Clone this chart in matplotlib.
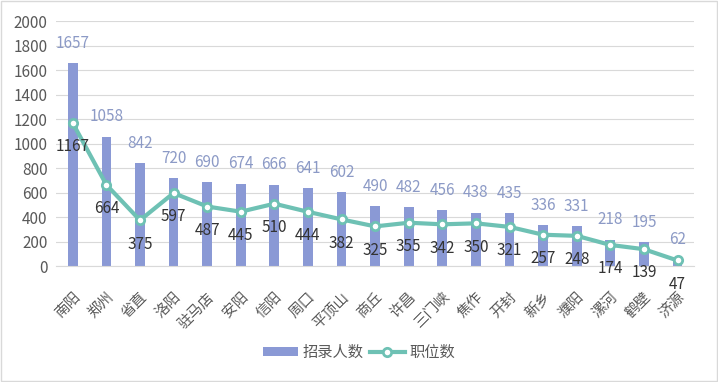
import matplotlib.pyplot as plt
import numpy as np

plt.rcParams['font.family'] = ['Noto Sans CJK SC', 'DejaVu Sans']

cities = ['南阳', '郑州', '省直', '洛阳', '驻马店', '安阳', '信阳', '周口', '平顶山', '商丘',
          '许昌', '三门峡', '焦作', '开封', '新乡', '濮阳', '漯河', '鹤壁', '济源']
recruits = [1657, 1058, 842, 720, 690, 674, 666, 641, 602, 490,
            482, 456, 438, 435, 336, 331, 218, 195, 62]
positions = [1167, 664, 375, 597, 487, 445, 510, 444, 382, 325,
             355, 342, 350, 321, 257, 248, 174, 139, 47]

bar_color = '#8A99D5'
line_color = '#6EC1B4'

fig = plt.figure(figsize=(7.18, 3.82), dpi=100)
ax = fig.add_axes([0.078, 0.303, 0.889, 0.642])

x = np.arange(len(cities))
bars = ax.bar(x, recruits, width=0.29, color=bar_color, label='招录人数', zorder=2)
line, = ax.plot(x, positions, color=line_color, lw=3, marker='o', ms=6,
                mfc='white', mec=line_color, mew=2, label='职位数', zorder=3)

for i in range(len(cities)):
    ax.annotate(str(recruits[i]), (x[i], recruits[i]), xytext=(0, 8), textcoords='offset points',
                ha='center', va='bottom', fontsize=11, color='#8C9AC6')
    ax.annotate(str(positions[i]), (x[i], positions[i]), xytext=(0, -11), textcoords='offset points',
                ha='center', va='top', fontsize=11, color='#333333')

ax.set_xlim(-0.5, len(cities) - 0.5)
ax.set_ylim(0, 2000)
ax.set_yticks(range(0, 2001, 200))
ax.yaxis.grid(True, color='#D9D9D9', lw=0.8, zorder=0)
ax.set_axisbelow(True)
for s in ['top', 'right', 'left']:
    ax.spines[s].set_visible(False)
ax.spines['bottom'].set_color('#D9D9D9')
ax.tick_params(axis='both', length=0, colors='#595959')
ax.tick_params(axis='y', pad=6, labelsize=11)
ax.tick_params(axis='x', pad=17, labelsize=10.5)
ax.set_xticks(x)
ax.set_xticklabels(cities, rotation=45, ha='right', va='top', rotation_mode='anchor')

fig.legend([bars, line], ['招录人数', '职位数'], loc='lower center', bbox_to_anchor=(0.5, 0.02),
           ncol=2, frameon=False, fontsize=11, handlelength=2.3, handleheight=0.5,
           columnspacing=0.4, handletextpad=0.3, labelcolor='#595959')

fig.patches.append(plt.Rectangle((0.002, 0.002), 0.996, 0.996, transform=fig.transFigure,
                                 fill=False, edgecolor='#D9D9D9', lw=1))

fig.savefig('out.png', dpi=100)
